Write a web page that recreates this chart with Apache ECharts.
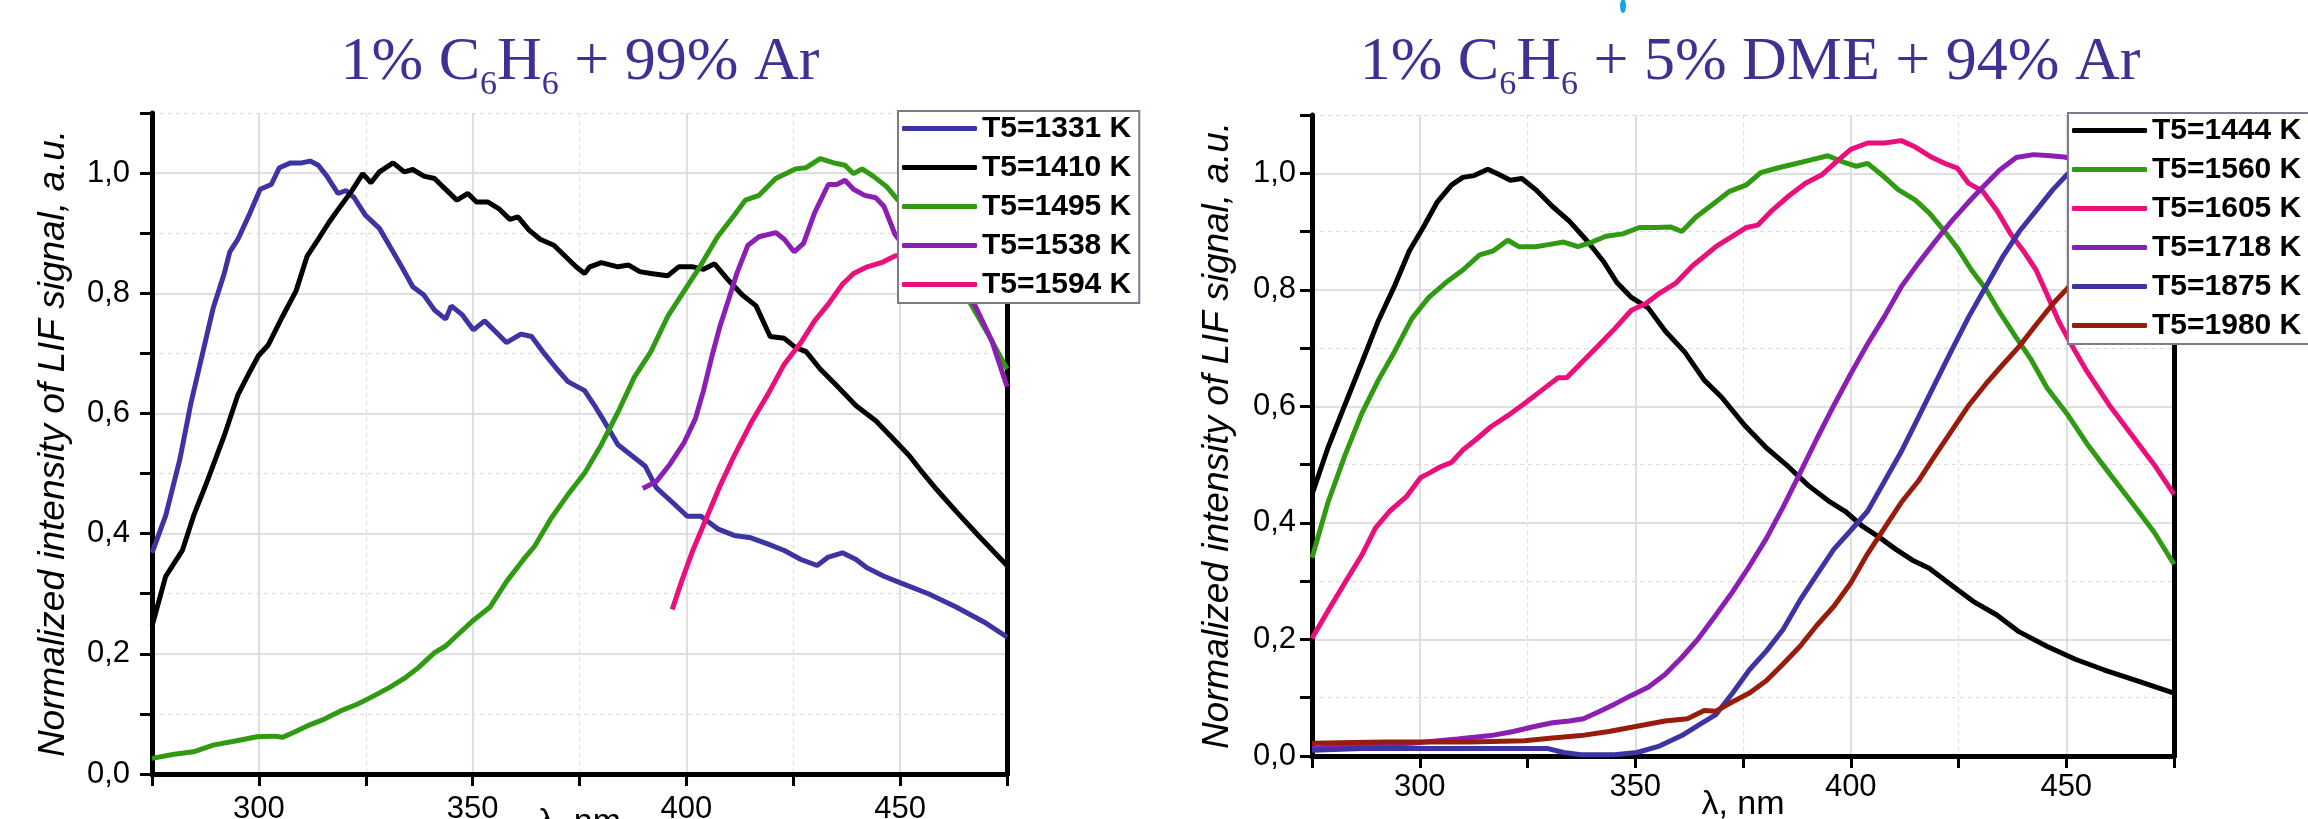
<!DOCTYPE html>
<html>
<head>
<meta charset="utf-8">
<script src="https://cdn.jsdelivr.net/npm/echarts@6/dist/echarts.min.js"></script>
<style>
  html, body { margin: 0; padding: 0; background: #fff; }
  #lif-spectra { width: 2308px; height: 819px; }
</style>
</head>
<body>
<div id="lif-spectra"></div>
<script>
// wavelength range and tick values
const LAMBDA_MIN = 275;
const LAMBDA_MAX = 475;
const LAMBDA_LABELS = [300, 350, 400, 450];
const SIGNAL_LABELS = [0, 0.2, 0.4, 0.6, 0.8, 1.0];

// left panel: 1% C6H6 + 99% Ar  ([lambda nm, normalized signal])
const left_t1331 = [[275,0.368],[278.2,0.43],[281.5,0.523],[284.1,0.617],[286.7,0.696],[289.3,0.775],[291.9,0.833],[293.2,0.869],[295.1,0.89],[297.7,0.93],[300.3,0.973],[302.9,0.981],[304.8,1.009],[307.4,1.017],[310,1.017],[312,1.02],[313.9,1.013],[315.9,0.995],[318.5,0.966],[320.4,0.971],[322.3,0.959],[324.9,0.93],[328.2,0.908],[330.8,0.876],[333.4,0.844],[336,0.811],[338.6,0.797],[341.1,0.772],[343.7,0.757],[345,0.779],[347.6,0.764],[350.2,0.739],[352.8,0.754],[355.4,0.736],[357.9,0.718],[361.3,0.732],[363.8,0.728],[366.4,0.703],[369.7,0.674],[372.3,0.653],[376.2,0.638],[378.8,0.61],[380.7,0.588],[384,0.548],[387.2,0.53],[390.4,0.512],[393,0.476],[396.9,0.451],[400.2,0.429],[403.4,0.429],[407.3,0.408],[411.2,0.397],[415.1,0.393],[419,0.383],[422.9,0.372],[426.8,0.357],[430.6,0.347],[433.2,0.361],[436.5,0.368],[439.7,0.357],[442.3,0.343],[446.2,0.329],[450.1,0.318],[456.6,0.3],[463.1,0.278],[469.6,0.253],[475,0.228]];
const left_t1410 = [[275,0.246],[278.2,0.329],[282.1,0.372],[284.7,0.429],[287.9,0.487],[291.9,0.563],[295.1,0.631],[297.7,0.667],[299.9,0.696],[302.2,0.714],[305.5,0.761],[308.7,0.804],[311.3,0.862],[313.9,0.89],[316.5,0.919],[319.1,0.945],[321.7,0.97],[324.3,0.999],[326.2,0.984],[328.2,1.002],[331.4,1.017],[334,1.002],[336,1.006],[338.6,0.995],[341.1,0.991],[343.1,0.977],[346.3,0.955],[348.9,0.966],[350.9,0.952],[353.5,0.952],[356.1,0.941],[358.7,0.923],[360.6,0.927],[363.2,0.905],[365.8,0.89],[369,0.88],[371.6,0.862],[374.2,0.844],[376.2,0.833],[377.4,0.844],[380.1,0.851],[384,0.844],[386.5,0.847],[389.1,0.836],[391.7,0.833],[395.6,0.829],[398.2,0.844],[401.5,0.844],[404,0.84],[406.6,0.849],[409.8,0.822],[413.1,0.797],[416.3,0.779],[419.6,0.728],[422.9,0.725],[425.5,0.71],[428,0.703],[431.3,0.674],[435.2,0.646],[439.7,0.613],[444.3,0.588],[448.2,0.559],[452.1,0.53],[455.3,0.501],[458.6,0.473],[463.1,0.437],[468.3,0.397],[475,0.347]];
const left_t1495 = [[275,0.026],[280.2,0.033],[284.7,0.037],[289.3,0.048],[294.5,0.055],[299.6,0.062],[303.5,0.063],[305.5,0.061],[308.1,0.069],[311.3,0.08],[315.2,0.091],[319.1,0.105],[323,0.116],[326.9,0.13],[330.8,0.145],[334,0.159],[337.3,0.177],[341.1,0.202],[343.7,0.213],[347,0.235],[350.2,0.256],[354.1,0.278],[358,0.321],[361.9,0.357],[364.5,0.379],[368.4,0.426],[372.3,0.465],[376.2,0.501],[380.1,0.548],[384,0.602],[387.8,0.66],[391.7,0.703],[395.6,0.761],[399.5,0.804],[403.4,0.847],[407.3,0.894],[411.2,0.93],[413.8,0.955],[417,0.963],[420.9,0.991],[425.5,1.007],[428,1.009],[431.3,1.024],[434.5,1.017],[437.1,1.013],[439.1,0.999],[441.1,1.007],[443.7,0.995],[446.9,0.977],[449.5,0.955],[455,0.92],[461,0.86],[466.3,0.785],[470.6,0.732],[475,0.674]];
const left_t1538 = [[389.8,0.475],[393,0.487],[396.2,0.516],[399.5,0.552],[402.1,0.591],[404,0.638],[406,0.696],[407.9,0.746],[409.9,0.79],[411.8,0.833],[414.4,0.88],[417,0.894],[420.9,0.901],[422.9,0.89],[425.2,0.869],[427.4,0.883],[430,0.934],[433.2,0.981],[435.2,0.981],[437.1,0.988],[439.1,0.973],[441.7,0.963],[444.3,0.959],[446.2,0.945],[448.8,0.898],[453,0.86],[460,0.84],[467.5,0.78],[471.5,0.72],[475,0.645]];
const left_t1594 = [[396.7,0.274],[398.9,0.321],[401.5,0.372],[404.7,0.426],[407.9,0.48],[411.2,0.53],[415.1,0.584],[419,0.631],[422.9,0.682],[426.8,0.718],[430,0.754],[433.2,0.782],[436.5,0.815],[439.1,0.833],[442.3,0.844],[445.6,0.851],[448.8,0.862],[455,0.87],[465,0.88],[475,0.88]];

// right panel: 1% C6H6 + 5% DME + 94% Ar
const right_t1444 = [[275,0.449],[278.7,0.529],[282.6,0.602],[286.5,0.674],[290.4,0.747],[294.3,0.809],[297.6,0.867],[300.8,0.907],[304.1,0.951],[307.4,0.98],[310,0.993],[312.6,0.996],[315.8,1.007],[318.4,0.998],[321,0.988],[323.7,0.991],[326.9,0.972],[330.8,0.943],[334.7,0.918],[338.7,0.885],[342.6,0.849],[345.8,0.812],[349.1,0.787],[353,0.769],[357,0.729],[361.5,0.693],[366,0.645],[370,0.616],[375.2,0.569],[380.4,0.529],[385.6,0.496],[390.2,0.464],[394.8,0.438],[398.7,0.42],[402.6,0.395],[406.5,0.376],[410.4,0.355],[414.3,0.336],[418.2,0.322],[423.4,0.293],[428.7,0.264],[433.9,0.242],[439.1,0.213],[445.6,0.188],[452.1,0.166],[458.7,0.148],[466.5,0.129],[475,0.108]];
const right_t1560 = [[275,0.34],[278.7,0.435],[282.6,0.515],[286.5,0.587],[290.4,0.645],[294.3,0.696],[298.2,0.751],[302.1,0.787],[306,0.812],[310,0.834],[313.9,0.86],[317.1,0.867],[320.4,0.885],[323,0.874],[326.9,0.874],[330.2,0.878],[333.4,0.882],[336.7,0.874],[340,0.882],[343.2,0.892],[347.1,0.896],[351,0.907],[355,0.907],[358.2,0.908],[360.8,0.9],[364.1,0.925],[368,0.947],[371.9,0.969],[375.8,0.98],[379.1,1.001],[383,1.009],[386.9,1.016],[390.8,1.023],[394.7,1.03],[398,1.02],[401.3,1.012],[403.9,1.017],[407.1,0.998],[411,0.972],[415,0.954],[418.2,0.932],[421.5,0.903],[424.8,0.871],[428,0.834],[431.3,0.802],[434.5,0.762],[438.4,0.718],[441.7,0.682],[445.6,0.631],[450.2,0.587],[454.8,0.536],[460,0.485],[465.2,0.435],[470.4,0.384],[475,0.329]];
const right_t1605 = [[275,0.202],[278.7,0.249],[282.6,0.297],[286.5,0.344],[289.7,0.391],[293,0.42],[296.9,0.445],[300.2,0.478],[302.1,0.485],[304.7,0.496],[307.4,0.504],[310,0.525],[313.2,0.544],[316.5,0.565],[320.4,0.584],[324.3,0.605],[328.2,0.627],[332.1,0.649],[334.1,0.649],[337.4,0.674],[341.3,0.703],[345.2,0.733],[349.1,0.765],[352.4,0.776],[355.6,0.794],[359.5,0.812],[363.4,0.842],[368.7,0.874],[372.6,0.892],[375.8,0.907],[378.4,0.911],[381.7,0.936],[385.6,0.961],[389.5,0.983],[393.4,0.998],[396.7,1.02],[400,1.041],[403.9,1.052],[407.8,1.052],[411.7,1.056],[415,1.045],[418.9,1.027],[422.1,1.016],[424.7,1.009],[427.3,0.983],[430.6,0.969],[433.9,0.936],[437.1,0.896],[440.4,0.863],[443,0.834],[445.6,0.791],[448.2,0.747],[450.8,0.711],[454.8,0.66],[460,0.602],[465.2,0.551],[470.4,0.5],[475,0.449]];
const right_t1718 = [[275,0.013],[285.2,0.019],[298.2,0.022],[308.7,0.029],[316.5,0.035],[321.7,0.042],[326.9,0.051],[330.8,0.057],[334.7,0.06],[338,0.064],[341.3,0.075],[345.2,0.089],[349.1,0.104],[353,0.118],[356.9,0.14],[360.8,0.169],[364.7,0.202],[368.7,0.242],[372.6,0.282],[376.5,0.326],[380.4,0.373],[384.3,0.427],[388.2,0.485],[392.1,0.544],[396.1,0.602],[400,0.656],[403.9,0.707],[407.8,0.754],[411.7,0.805],[415.6,0.845],[419.5,0.882],[423.4,0.918],[427.4,0.951],[430.6,0.976],[434.5,1.005],[438.4,1.027],[442.4,1.032],[446.3,1.03],[449.5,1.028],[455,1.02],[465,0.99],[475,0.95]];
const right_t1875 = [[275,0.01],[286.5,0.013],[298.2,0.013],[311.3,0.013],[329.5,0.013],[333.4,0.006],[337.4,0.002],[345.2,0.002],[350.4,0.006],[355.6,0.017],[360.8,0.035],[364.7,0.053],[368.7,0.071],[372.6,0.108],[376.5,0.148],[380.4,0.18],[384.3,0.217],[388.2,0.267],[392.1,0.311],[396.1,0.355],[400,0.387],[403.9,0.42],[407.8,0.471],[411.7,0.522],[415.6,0.58],[419.5,0.638],[423.4,0.696],[427.4,0.754],[431.3,0.805],[435.2,0.856],[439.1,0.9],[443,0.936],[446.9,0.972],[450.2,0.998],[458,1.04],[466,1.06],[475,1.06]];
const right_t1980 = [[275,0.022],[291.7,0.024],[311.3,0.024],[324.3,0.026],[330.8,0.031],[337.4,0.035],[343.9,0.042],[350.4,0.051],[356.9,0.06],[362.1,0.064],[366,0.078],[368.7,0.077],[372.6,0.093],[376.5,0.108],[380.4,0.129],[384.3,0.158],[388.2,0.188],[392.1,0.224],[396.1,0.257],[400,0.297],[403.9,0.347],[407.8,0.391],[411.7,0.435],[415.6,0.471],[419.5,0.515],[423.4,0.558],[427.4,0.602],[431.3,0.638],[435.2,0.671],[439.1,0.703],[443,0.74],[446.9,0.776],[450.2,0.802],[460,0.88],[475,0.97]];

const COLOR_BLUE = '#3e33a2';
const COLOR_BLACK = '#000000';
const COLOR_GREEN = '#2f9a12';
const COLOR_PURPLE = '#8c1fb3';
const COLOR_PINK = '#ea0f7b';
const COLOR_BROWN = '#981c0c';

const SANS = '"Liberation Sans", Arial, sans-serif';
const SERIF = '"Liberation Serif", "Times New Roman", serif';
const TITLE_COLOR = '#3d3294';
const GRID_MAJOR = '#d6d6d6';
const GRID_MINOR = '#dedede';

let lif_chart = echarts.init(document.getElementById('lif-spectra'));

function lambda_axes(gridIndex, labelMargin, nameGap) {
    return [
        {
            gridIndex: gridIndex,
            type: 'value',
            position: 'bottom',
            min: LAMBDA_MIN,
            max: LAMBDA_MAX,
            interval: 25,
            name: 'λ, nm',
            nameLocation: 'middle',
            nameGap: nameGap,
            nameMoveOverlap: false,
            nameTextStyle: {fontFamily: SANS, fontSize: 34, color: '#000'},
            axisLine: {lineStyle: {color: '#000', width: 5}},
            axisTick: {length: 12, lineStyle: {color: '#000', width: 3}},
            axisLabel: {
                margin: labelMargin,
                fontFamily: SANS,
                fontSize: 31,
                color: '#000',
                formatter: v => LAMBDA_LABELS.includes(v) ? String(v) : ''
            },
            splitLine: {show: true, lineStyle: {color: ['rgba(0,0,0,0)', GRID_MAJOR], width: 1.5}}
        },
        {
            gridIndex: gridIndex,
            type: 'value',
            position: 'top',
            min: LAMBDA_MIN,
            max: LAMBDA_MAX,
            interval: 25,
            axisLine: {lineStyle: {color: '#000', width: 5}},
            axisTick: {show: false},
            axisLabel: {show: false},
            splitLine: {show: true, lineStyle: {color: GRID_MINOR, width: 1.2, type: [4, 4]}}
        }
    ];
}

function signal_axes(gridIndex, labelMargin, nameGap) {
    return [
        {
            gridIndex: gridIndex,
            type: 'value',
            position: 'left',
            min: 0,
            max: 1.1,
            interval: 0.1,
            name: 'Normalized intensity of LIF signal, a.u.',
            nameLocation: 'middle',
            nameGap: nameGap,
            nameMoveOverlap: false,
            nameTextStyle: {fontFamily: SANS, fontSize: 37, fontStyle: 'italic', color: '#000'},
            axisLine: {lineStyle: {color: '#000', width: 5}},
            axisTick: {length: 12, lineStyle: {color: '#000', width: 3}},
            axisLabel: {
                margin: labelMargin,
                fontFamily: SANS,
                fontSize: 31,
                color: '#000',
                formatter: v => {
                    let hit = SIGNAL_LABELS.find(s => Math.abs(s - v) < 1e-6);
                    return hit === undefined ? '' : hit.toFixed(1).replace('.', ',');
                }
            },
            splitLine: {show: true, lineStyle: {color: [GRID_MAJOR, 'rgba(0,0,0,0)'], width: 1.5}}
        },
        {
            gridIndex: gridIndex,
            type: 'value',
            position: 'right',
            min: 0,
            max: 1.1,
            interval: 0.1,
            axisLine: {lineStyle: {color: '#000', width: 5}},
            axisTick: {show: false},
            axisLabel: {show: false},
            splitLine: {show: true, lineStyle: {color: GRID_MINOR, width: 1.2, type: [4, 4]}}
        }
    ];
}

function spectrum(name, data, color, axisIndex) {
    return {
        name: name,
        type: 'line',
        xAxisIndex: axisIndex,
        yAxisIndex: axisIndex,
        data: data,
        symbol: 'none',
        showSymbol: false,
        color: color,
        lineStyle: {color: color, width: 5},
        clip: true
    };
}

function legend_box(left, top, names) {
    return {
        orient: 'vertical',
        left: left,
        top: top,
        data: names,
        selectedMode: false,
        icon: 'roundRect',
        itemWidth: 75,
        itemHeight: 5,
        itemGap: 8,
        padding: [2, 8, 3, 4],
        backgroundColor: '#ffffff',
        borderColor: '#7d7a8c',
        borderWidth: 2,
        textStyle: {fontFamily: SANS, fontSize: 30, fontWeight: 'bold', color: '#000', lineHeight: 31}
    };
}

const title_rich = {
    m: {fontFamily: SERIF, fontSize: 62, fontWeight: 'normal', color: TITLE_COLOR},
    s: {fontFamily: SERIF, fontSize: 34, fontWeight: 'normal', color: TITLE_COLOR, padding: [44, 0, 0, 0]}
};

let echarts_options = {
    animation: false,
    backgroundColor: '#ffffff',
    title: [
        {
            text: '{m|1% C}{s|6}{m|H}{s|6}{m| + 99% Ar}',
            left: 575,
            top: 19,
            textAlign: 'center',
            textStyle: {fontWeight: 'normal', rich: title_rich}
        },
        {
            text: '{m|1% C}{s|6}{m|H}{s|6}{m| + 5% DME + 94% Ar}',
            left: 1745,
            top: 19,
            textAlign: 'center',
            textStyle: {fontWeight: 'normal', rich: title_rich}
        }
    ],
    legend: [
        legend_box(898, 111, ['T5=1331 K', 'T5=1410 K', 'T5=1495 K', 'T5=1538 K', 'T5=1594 K']),
        legend_box(2068, 113, ['T5=1444 K', 'T5=1560 K', 'T5=1605 K', 'T5=1718 K', 'T5=1875 K', 'T5=1980 K'])
    ],
    grid: [
        {left: 152, right: 1301, top: 113, bottom: 45, outerBoundsMode: 'none', containLabel: false},
        {left: 1312, right: 134, top: 115, bottom: 63, outerBoundsMode: 'none', containLabel: false}
    ],
    xAxis: [...lambda_axes(0, 20, 32), ...lambda_axes(1, 16, 32)],
    yAxis: [...signal_axes(0, 22, 80), ...signal_axes(1, 16, 76)],
    graphic: [
        {type: 'ellipse', shape: {cx: 1623, cy: 6, rx: 3, ry: 7}, style: {fill: '#1aa3d8'}}
    ],
    series: [
        spectrum('T5=1331 K', left_t1331, COLOR_BLUE, 0),
        spectrum('T5=1410 K', left_t1410, COLOR_BLACK, 0),
        spectrum('T5=1495 K', left_t1495, COLOR_GREEN, 0),
        spectrum('T5=1538 K', left_t1538, COLOR_PURPLE, 0),
        spectrum('T5=1594 K', left_t1594, COLOR_PINK, 0),
        spectrum('T5=1444 K', right_t1444, COLOR_BLACK, 2),
        spectrum('T5=1560 K', right_t1560, COLOR_GREEN, 2),
        spectrum('T5=1605 K', right_t1605, COLOR_PINK, 2),
        spectrum('T5=1718 K', right_t1718, COLOR_PURPLE, 2),
        spectrum('T5=1875 K', right_t1875, COLOR_BLUE, 2),
        spectrum('T5=1980 K', right_t1980, COLOR_BROWN, 2)
    ]
};

lif_chart.setOption(echarts_options);
</script>
</body>
</html>
